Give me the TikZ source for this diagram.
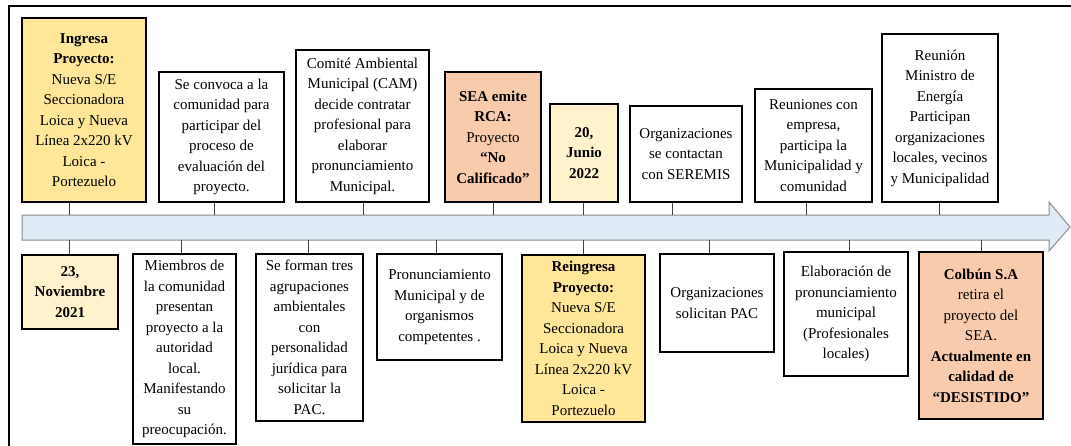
\documentclass[tikz,border=0pt]{standalone}
\usepackage{fontspec}
\setmainfont{Liberation Serif}
\definecolor{gold}{HTML}{FFE699}
\definecolor{salmon}{HTML}{F8CBAD}
\definecolor{cream}{HTML}{FFF2CC}
\definecolor{axisfill}{HTML}{DEEAF6}
\definecolor{axisline}{HTML}{8C8C8C}
\tikzset{
  event/.style={draw=black, line width=1.2pt, fill=white, align=center,
    inner sep=0pt, font=\fontsize{15}{20.5}\selectfont},
  tick/.style={draw=black!75, line width=0.9pt},
}
\begin{document}
\begin{tikzpicture}[x=1pt,y=-1pt]
\useasboundingbox (0,0) rectangle (1071,445);
% outer frame (only top and left edges fall inside the page)
\draw[line width=2pt] (1075,6) -- (9,6) -- (9,450);

% timeline arrow
\draw[fill=axisfill, draw=axisline, line width=1pt]
  (22,215) -- (1049,215) -- (1049,202) -- (1070,227) -- (1049,251)
  -- (1049,240) -- (22,240) -- cycle;

% upper events
\node[event, fill=gold, minimum width=124pt, minimum height=184pt] (t1) at (84,110)
  {\textbf{Ingresa}\\\textbf{Proyecto:}\\Nueva S/E\\Seccionadora\\Loica y Nueva\\Línea 2x220 kV\\Loica -\\Portezuelo};
\node[event, minimum width=125pt, minimum height=130pt] (t2) at (221.5,137)
  {Se convoca a la\\comunidad para\\participar del\\proceso de\\evaluación del\\proyecto.};
\node[event, minimum width=133pt, minimum height=152pt] (t3) at (362.5,126)
  {Comité Ambiental\\Municipal (CAM)\\decide contratar\\profesional para\\elaborar\\pronunciamiento\\Municipal.};
\node[event, fill=salmon, minimum width=96pt, minimum height=130pt] (t4) at (493,137)
  {\textbf{SEA emite}\\\textbf{RCA:}\\Proyecto\\\textbf{“No}\\\textbf{Calificado”}};
\node[event, fill=cream, minimum width=68pt, minimum height=98pt] (t5) at (584,153)
  {\textbf{20,}\\\textbf{Junio}\\\textbf{2022}};
\node[event, minimum width=112pt, minimum height=96pt] (t6) at (686,154)
  {Organizaciones\\se contactan\\con SEREMIS};
\node[event, minimum width=117pt, minimum height=113pt] (t7) at (813.5,145.5)
  {Reuniones con\\empresa,\\participa la\\Municipalidad y\\comunidad};
\node[event, minimum width=116pt, minimum height=168pt] (t8) at (940,118)
  {Reunión\\Ministro de\\Energía\\Participan\\organizaciones\\locales, vecinos\\y Municipalidad};

% lower events
\node[event, fill=cream, minimum width=96pt, minimum height=74pt] (b1) at (70,292)
  {\textbf{23,}\\\textbf{Noviembre}\\\textbf{2021}};
\node[event, minimum width=103pt, minimum height=190pt] (b2) at (184.5,349)
  {Miembros de\\la comunidad\\presentan\\proyecto a la\\autoridad\\local.\\Manifestando\\su\\preocupación.};
\node[event, minimum width=107pt, minimum height=167pt] (b3) at (309.5,337.5)
  {Se forman tres\\agrupaciones\\ambientales\\con\\personalidad\\jurídica para\\solicitar la\\PAC.};
\node[event, minimum width=125pt, minimum height=106pt] (b4) at (439.5,307)
  {Pronunciamiento\\Municipal y de\\organismos\\competentes .};
\node[event, fill=gold, minimum width=123pt, minimum height=167pt] (b5) at (583.5,338.5)
  {\textbf{Reingresa}\\\textbf{Proyecto:}\\Nueva S/E\\Seccionadora\\Loica y Nueva\\Línea 2x220 kV\\Loica -\\Portezuelo};
\node[event, minimum width=114pt, minimum height=98pt] (b6) at (717,303)
  {Organizaciones\\solicitan PAC};
\node[event, minimum width=124pt, minimum height=124pt] (b7) at (846,314)
  {Elaboración de\\pronunciamiento\\municipal\\(Profesionales\\locales)};
\node[event, fill=salmon, minimum width=124pt, minimum height=167pt] (b8) at (981,335.5)
  {\textbf{Colbún S.A}\\retira el\\proyecto del\\SEA.\\\textbf{Actualmente en}\\\textbf{calidad de}\\\textbf{“DESISTIDO”}};

% anchor points on the timeline
\foreach \n/\x in {1/69,2/214,3/363,4/493,5/583,6/672,7/806,8/939}
  \coordinate (u\n) at (\x,215);
\foreach \n/\x in {1/69,2/181,3/308,4/436,5/583,6/709,7/849,8/981}
  \coordinate (l\n) at (\x,240);

% ticks joining events to the timeline
\foreach \n in {1,...,8} {
  \draw[tick] (u\n) -- (u\n |- t\n.south);
  \draw[tick] (l\n) -- (l\n |- b\n.north);
}
\end{tikzpicture}
\end{document}
